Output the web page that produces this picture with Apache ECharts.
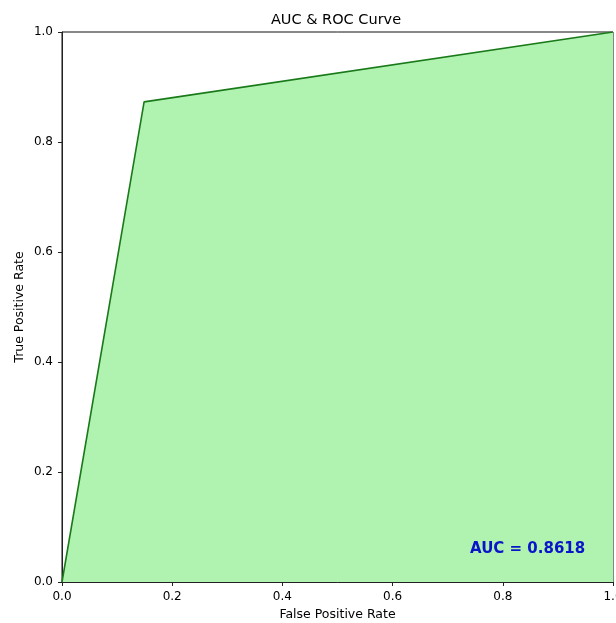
<!DOCTYPE html>
<html>
<head>
<meta charset="utf-8">
<script src="https://cdn.jsdelivr.net/npm/echarts@6/dist/echarts.min.js"></script>
<style>
html,body{margin:0;padding:0;background:#fff;}
#chart{width:616px;height:623px;}
</style>
</head>
<body>
<div id="chart"></div>
<script>
var fpr = [0.0, 0.149, 1.0];
var tpr = [0.0, 0.873, 1.0];
var aucValue = 0.8618;
var axisTicks = [0.0, 0.2, 0.4, 0.6, 0.8, 1.0];

var chart = echarts.init(document.getElementById('chart'), null, {renderer: 'canvas'});
var font = 'DejaVu Sans';
var points = fpr.map(function (x, i) { return [x, tpr[i]]; });

var option = {
  backgroundColor: '#ffffff',
  animation: false,
  title: {
    text: 'AUC & ROC Curve',
    left: 331, top: 8, textAlign: 'center',
    textStyle: {fontFamily: font, fontSize: 14.5, fontWeight: 'normal', color: '#000'}
  },
  grid: {
    left: 62, top: 32, right: 3, bottom: 41,
    containLabel: false, outerBoundsMode: 'none',
    show: true, borderColor: '#111', borderWidth: 1, backgroundColor: 'transparent'
  },
  xAxis: {
    type: 'value', min: 0, max: 1, interval: 0.2,
    name: 'False Positive Rate', nameLocation: 'middle', nameGap: 26,
    nameMoveOverlap: false,
    nameTextStyle: {fontFamily: font, fontSize: 12.5, color: '#000'},
    axisLine: {show: true, onZero: false, lineStyle: {color: '#222', width: 1}},
    axisTick: {show: true, length: 4, lineStyle: {color: '#222'}},
    axisLabel: {fontFamily: font, fontSize: 12, color: '#000', margin: 9,
      formatter: function (v) { return v.toFixed(1); }},
    splitLine: {show: false}
  },
  yAxis: {
    type: 'value', min: 0, max: 1, interval: 0.2,
    name: 'True Positive Rate', nameLocation: 'middle', nameGap: 36,
    nameMoveOverlap: false,
    nameTextStyle: {fontFamily: font, fontSize: 12.5, color: '#000'},
    axisLine: {show: true, onZero: false, lineStyle: {color: '#222', width: 1}},
    axisTick: {show: true, length: 4, lineStyle: {color: '#222'}},
    axisLabel: {fontFamily: font, fontSize: 12, color: '#000', margin: 9,
      formatter: function (v) { return v.toFixed(1); }},
    splitLine: {show: false}
  },
  series: [{
    type: 'line',
    data: points,
    showSymbol: false,
    lineStyle: {color: '#1a7a1a', width: 1.6},
    areaStyle: {color: '#b0f2b0', opacity: 1},
    z: 2
  }],
  graphic: [{
    type: 'text',
    left: 470, top: 542,
    style: {
      text: 'AUC = ' + aucValue.toFixed(4),
      fontFamily: font, fontSize: 15, fontWeight: 'bold', fill: '#0a14c8'
    },
    z: 10
  }]
};
chart.setOption(option);
</script>
</body>
</html>
